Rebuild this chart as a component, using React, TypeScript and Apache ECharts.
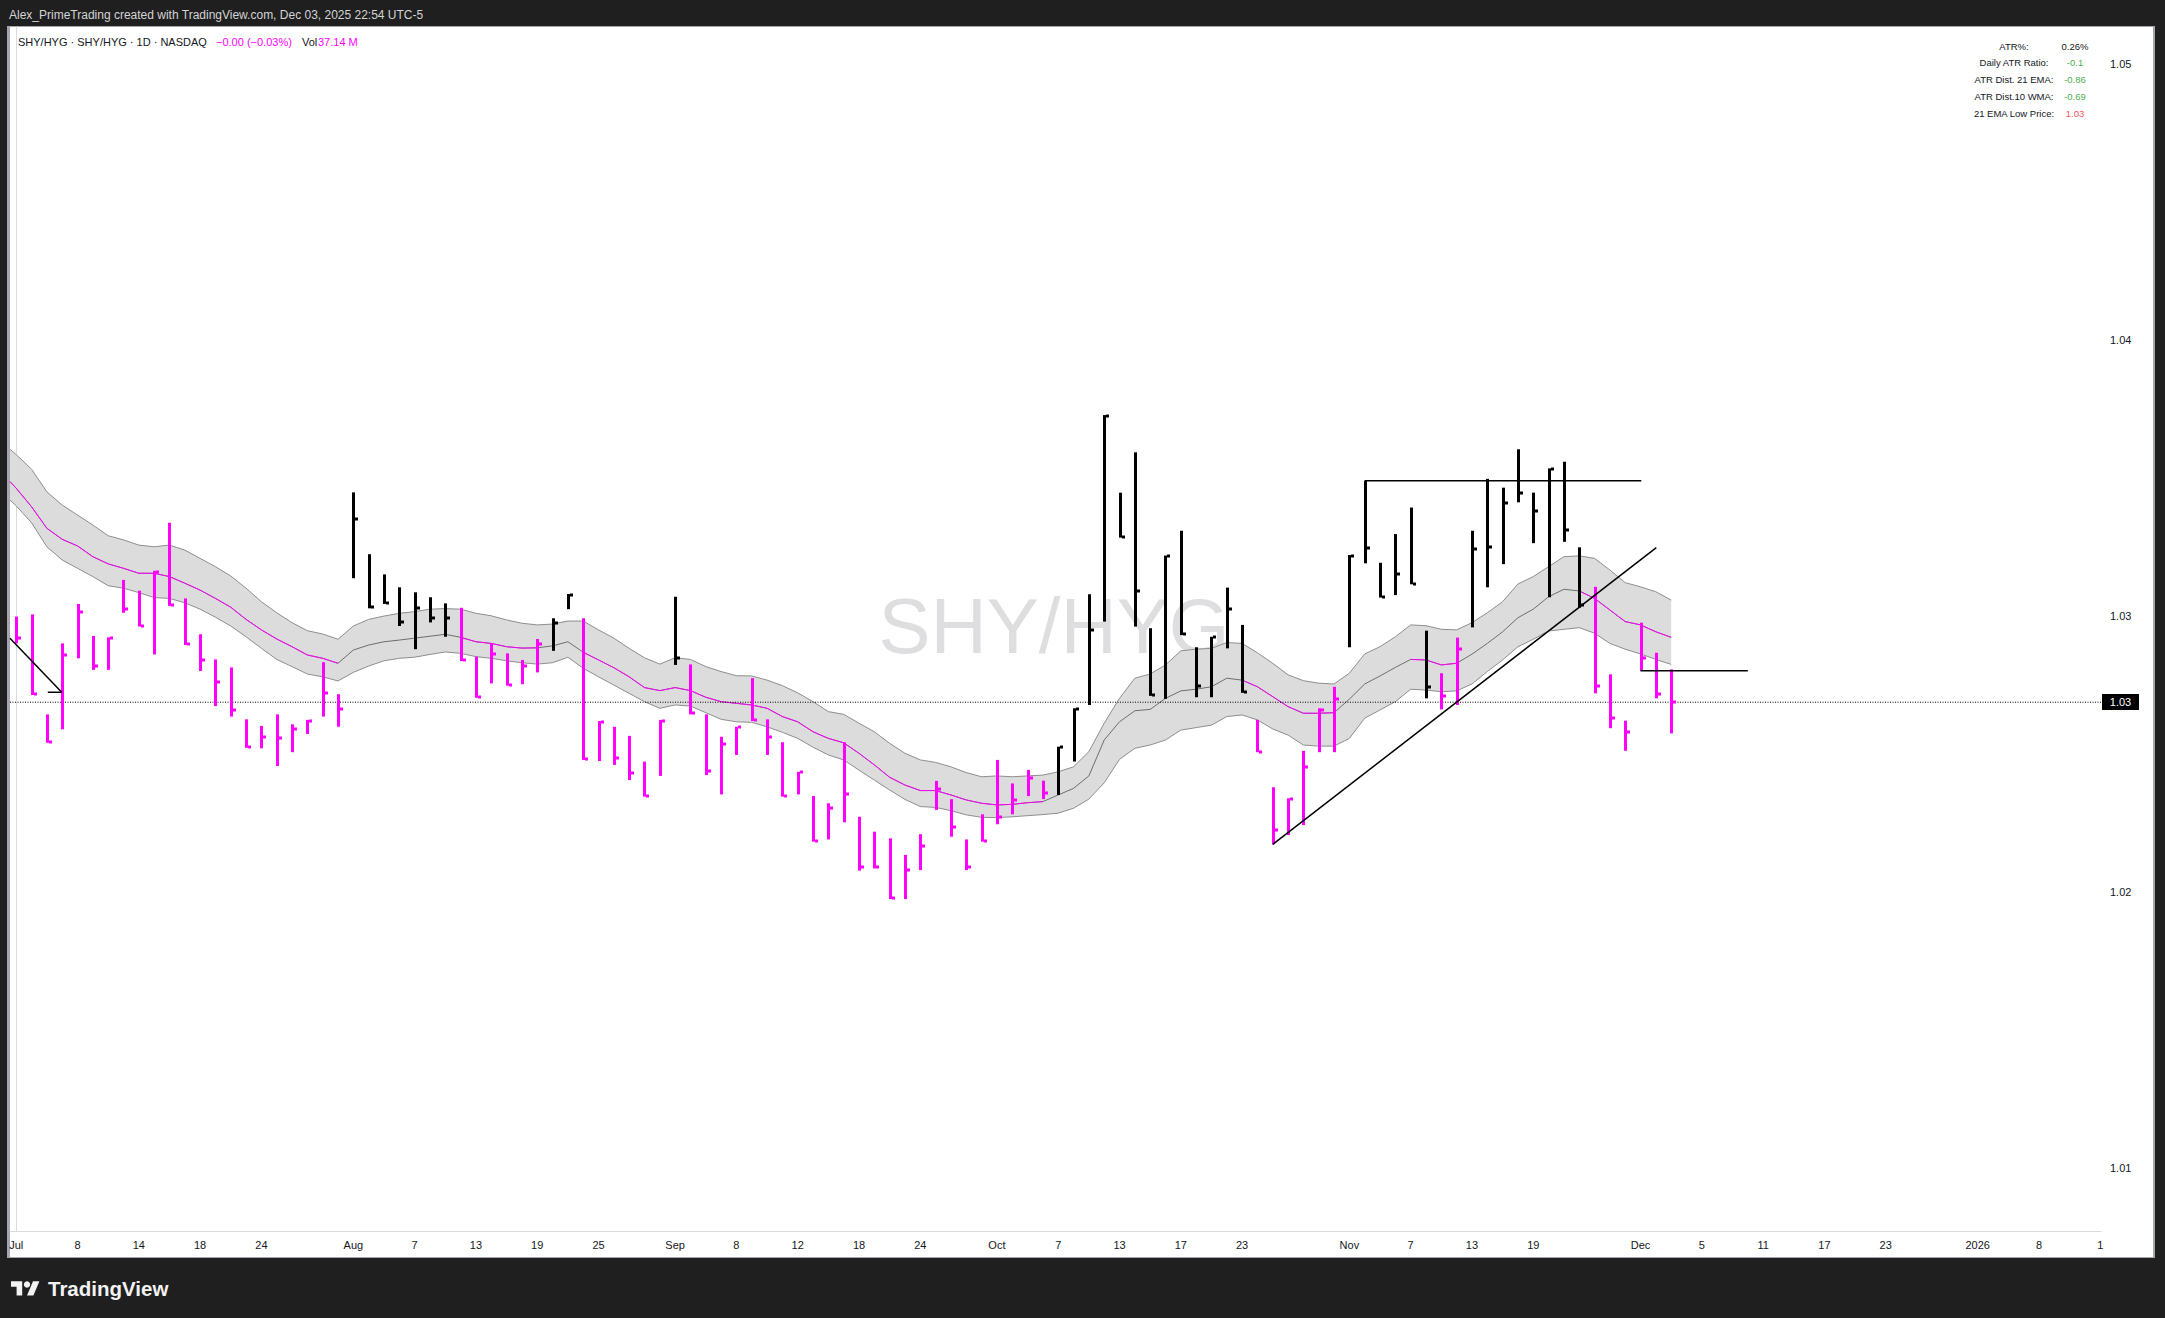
import React, { useEffect, useRef } from "react";
import * as echarts from "echarts";

// ---- OHLC (HLC) bars, one per trading day, index 0 = Jul 1 2025 ----
const highs = [
  1.02997, 1.03005, 1.02643, 1.029, 1.03043, 1.02927, 1.02922, 1.0313, 1.03091, 1.03163,
  1.03337, 1.03063, 1.02933, 1.02842, 1.02813, 1.02625, 1.02601, 1.02643, 1.02607, 1.02623,
  1.02832, 1.02716, 1.03447, 1.03223, 1.0315, 1.03103, 1.03085, 1.03067, 1.03045, 1.03029,
  1.02852, 1.029, 1.02864, 1.0284, 1.02916, 1.02991, 1.03079, 1.02991, 1.02619, 1.02598,
  1.02565, 1.02472, 1.02623, 1.03069, 1.02824, 1.02643, 1.02562, 1.02598, 1.02774, 1.02625,
  1.02542, 1.02435, 1.02347, 1.02321, 1.02542, 1.02272, 1.02218, 1.02194, 1.02134, 1.02209,
  1.02402, 1.02336, 1.0219, 1.02281, 1.02478, 1.02393, 1.02442, 1.02403, 1.02526, 1.02665,
  1.03078, 1.03727, 1.03446, 1.03592, 1.02955, 1.03218, 1.03308, 1.02886, 1.02924, 1.03102,
  1.02967, 1.02623, 1.02379, 1.02339, 1.02511, 1.02665, 1.02743, 1.0322, 1.03489, 1.03192,
  1.03296, 1.03392, 1.02946, 1.02792, 1.02921, 1.03308, 1.03496, 1.03464, 1.03603, 1.03446,
  1.03534, 1.03558, 1.03248, 1.03105, 1.02788, 1.0262, 1.02975, 1.02866, 1.02806,
];
const lows = [
  1.029, 1.02713, 1.0254, 1.02589, 1.02846, 1.02804, 1.02804, 1.03011, 1.02961, 1.0286,
  1.03036, 1.02894, 1.028, 1.02673, 1.02635, 1.02522, 1.0252, 1.02456, 1.02506, 1.02572,
  1.02635, 1.02598, 1.03136, 1.03027, 1.03043, 1.02963, 1.02879, 1.02976, 1.02924, 1.02836,
  1.02703, 1.02755, 1.02747, 1.02752, 1.02795, 1.02873, 1.03024, 1.02478, 1.02474, 1.0246,
  1.02405, 1.02345, 1.0242, 1.02822, 1.02643, 1.02423, 1.02353, 1.02496, 1.02619, 1.02496,
  1.02345, 1.02353, 1.02182, 1.0219, 1.02252, 1.02077, 1.02085, 1.01974, 1.01974, 1.02079,
  1.02297, 1.022, 1.02079, 1.02182, 1.02245, 1.02281, 1.02347, 1.02336, 1.02351, 1.02472,
  1.02677, 1.02979, 1.03283, 1.02961, 1.0271, 1.02699, 1.0293, 1.02705, 1.02705, 1.02882,
  1.02721, 1.02506, 1.02172, 1.02206, 1.02242, 1.02506, 1.02506, 1.02886, 1.0319, 1.03066,
  1.03075, 1.03114, 1.02701, 1.02661, 1.02677, 1.02958, 1.03103, 1.03187, 1.03411, 1.03263,
  1.03067, 1.03268, 1.03029, 1.02719, 1.02593, 1.02511, 1.02801, 1.02701, 1.02574,
];
const closes = [
  1.02918, 1.02717, 1.02544, 1.02858, 1.03013, 1.02818, 1.02918, 1.03024, 1.02963, 1.0316,
  1.03039, 1.02897, 1.0284, 1.02761, 1.02659, 1.02524, 1.02562, 1.02556, 1.02589, 1.02619,
  1.02721, 1.02661, 1.0335, 1.03031, 1.03045, 1.02979, 1.03027, 1.02991, 1.02991, 1.02839,
  1.02706, 1.02861, 1.02749, 1.02819, 1.02898, 1.02973, 1.03076, 1.0248, 1.02616, 1.02486,
  1.0243, 1.02347, 1.0262, 1.02848, 1.02647, 1.02438, 1.02536, 1.02596, 1.02623, 1.02561,
  1.02347, 1.02433, 1.02184, 1.02305, 1.02355, 1.02089, 1.02089, 1.01977, 1.02079, 1.02167,
  1.02373, 1.02234, 1.02089, 1.02184, 1.02272, 1.02333, 1.02411, 1.02359, 1.02524, 1.02662,
  1.02949, 1.03725, 1.03285, 1.0309, 1.02712, 1.03215, 1.02933, 1.02746, 1.02922, 1.03024,
  1.02724, 1.02508, 1.02224, 1.02336, 1.02451, 1.02659, 1.02699, 1.03218, 1.03244, 1.03068,
  1.0315, 1.03116, 1.02741, 1.02711, 1.0288, 1.03242, 1.0325, 1.0341, 1.03446, 1.03381,
  1.03532, 1.03311, 1.03039, 1.02746, 1.02631, 1.0258, 1.02846, 1.02717, 1.02687,
];
// 1 = black bar, 0 = magenta bar
const barDark = [
  0, 0, 0, 0, 0, 0, 0, 0, 0, 0, 0, 0, 0, 0, 0, 0, 0, 0, 0, 0, 0, 0,
  1, 1, 1, 1, 1, 1, 1,
  0, 0, 0, 0, 0, 0,
  1, 1,
  0, 0, 0, 0, 0, 0,
  1,
  0, 0, 0, 0, 0, 0, 0, 0, 0, 0, 0, 0, 0, 0, 0, 0, 0, 0, 0, 0, 0, 0, 0, 0,
  1, 1, 1, 1, 1, 1, 1, 1, 1, 1, 1, 1, 1,
  0, 0, 0, 0, 0, 0,
  1, 1, 1, 1, 1, 1,
  0, 0,
  1, 1, 1, 1, 1, 1, 1, 1,
  0, 0, 0, 0, 0, 0,
];

// ---- 21 EMA channel (first point = left edge of the pane, then bar 0..108) ----
const bandX = [-0.405, ...highs.map((_, i) => i)];
const emaHigh = [
  1.03603,
  1.03584, 1.03531, 1.03449, 1.03401, 1.03365, 1.03329, 1.0329, 1.03275, 1.03256, 1.0325,
  1.03256, 1.03238, 1.03208, 1.03178, 1.03144, 1.031, 1.03051, 1.03011, 1.02975, 1.02946,
  1.02934, 1.02915, 1.02963, 1.02987, 1.02999, 1.03009, 1.03015, 1.03024, 1.03026, 1.03024,
  1.03009, 1.03, 1.02985, 1.02973, 1.02967, 1.0297, 1.02981, 1.02981, 1.02949, 1.02919,
  1.02882, 1.02848, 1.02825, 1.02848, 1.02842, 1.02816, 1.02798, 1.02783, 1.02782, 1.02767,
  1.02747, 1.02721, 1.02689, 1.02653, 1.02643, 1.02611, 1.0258, 1.02538, 1.02502, 1.02478,
  1.02469, 1.02453, 1.02432, 1.02417, 1.0242, 1.02417, 1.0242, 1.02423, 1.02435, 1.02453,
  1.02508, 1.02611, 1.02701, 1.02774, 1.02789, 1.02822, 1.02873, 1.02879, 1.02882, 1.02903,
  1.029, 1.02866, 1.02828, 1.02786, 1.02765, 1.02756, 1.02753, 1.02792, 1.02862, 1.02888,
  1.02924, 1.02967, 1.02964, 1.02951, 1.02949, 1.02975, 1.03011, 1.03051, 1.03115, 1.03142,
  1.03178, 1.03214, 1.03217, 1.03208, 1.03166, 1.0312, 1.03105, 1.03087, 1.03057,
];
const emaClose = [
  1.03486,
  1.03462, 1.03395, 1.03317, 1.03277, 1.03253, 1.03214, 1.03188, 1.03172, 1.03154, 1.03154,
  1.03142, 1.03118, 1.03093, 1.03063, 1.03031, 1.02987, 1.02949, 1.02916, 1.02888, 1.02858,
  1.02846, 1.02828, 1.02876, 1.02894, 1.02906, 1.02912, 1.02919, 1.02926, 1.02933, 1.02922,
  1.02906, 1.029, 1.02888, 1.02883, 1.02884, 1.02891, 1.02906, 1.02868, 1.0284, 1.02812,
  1.02779, 1.0274, 1.02729, 1.0274, 1.02729, 1.02705, 1.02689, 1.02683, 1.02677, 1.02665,
  1.02635, 1.02616, 1.0258, 1.02556, 1.0254, 1.02502, 1.0246, 1.02415, 1.02387, 1.02367,
  1.02367, 1.02351, 1.02333, 1.02321, 1.02315, 1.02317, 1.02323, 1.02327, 1.02351, 1.02375,
  1.0242, 1.0255, 1.02616, 1.02656, 1.02661, 1.02701, 1.02728, 1.02734, 1.02743, 1.02774,
  1.02767, 1.02743, 1.02707, 1.02671, 1.02647, 1.02647, 1.02649, 1.02698, 1.02753, 1.02782,
  1.02813, 1.02842, 1.0284, 1.02822, 1.02828, 1.02861, 1.029, 1.02942, 1.02993, 1.03024,
  1.03069, 1.03096, 1.0309, 1.03063, 1.03021, 1.02979, 1.02967, 1.02942, 1.02922,
];
const emaLow = [
  1.03419,
  1.03398, 1.03337, 1.0325, 1.03202, 1.03172, 1.03142, 1.03109, 1.031, 1.03084, 1.03066,
  1.03063, 1.03047, 1.03024, 1.02995, 1.02963, 1.02924, 1.02882, 1.02842, 1.02816, 1.02789,
  1.02779, 1.02764, 1.02795, 1.02818, 1.02837, 1.02846, 1.0285, 1.0286, 1.02869, 1.02864,
  1.02852, 1.02846, 1.02837, 1.0283, 1.02825, 1.0283, 1.0285, 1.0281, 1.02779, 1.02749,
  1.02719, 1.02689, 1.02665, 1.02677, 1.02673, 1.02649, 1.02625, 1.02616, 1.02614, 1.02598,
  1.02578, 1.02556, 1.02524, 1.02496, 1.02478, 1.02441, 1.02405, 1.02369, 1.02335, 1.02309,
  1.02306, 1.02294, 1.02279, 1.0227, 1.02269, 1.02272, 1.02276, 1.0228, 1.02285, 1.02303,
  1.02336, 1.02395, 1.0248, 1.0252, 1.02532, 1.0255, 1.02586, 1.02595, 1.02604, 1.02635,
  1.02641, 1.02623, 1.0259, 1.02568, 1.02532, 1.02528, 1.02528, 1.02556, 1.02629, 1.02659,
  1.02689, 1.02734, 1.02731, 1.02725, 1.02728, 1.02753, 1.02798, 1.0284, 1.02888, 1.02915,
  1.02945, 1.02951, 1.02957, 1.02937, 1.029, 1.02879, 1.02862, 1.02842, 1.02824,
];
// 1 = EMA line drawn magenta at that point
const magentaOn = [
  1,
  1, 1, 1, 1, 1, 1, 1, 1, 1, 1, 1, 1, 1, 1, 1, 1, 1, 1, 1, 1, 1, 1,
  0, 0, 0, 0, 0, 0, 0,
  1, 1, 1, 1, 1, 1,
  0, 0,
  1, 1, 1, 1, 1, 1, 1, 1, 1, 1, 1, 1, 1, 1, 1, 1, 1, 1, 1, 1, 1, 1, 1, 1, 1, 1, 1, 1, 1, 1, 1,
  0, 0, 0, 0, 0, 0, 0, 0, 0, 0, 0, 0,
  1, 1, 1, 1, 1, 1, 1,
  0, 0, 0, 0,
  1, 1, 1, 1,
  0, 0, 0, 0, 0, 0, 0,
  1, 1, 1, 1, 1, 1, 1,
];

// ---- drawn lines ----
const arrowLine = [[-0.405, 1.02919], [2.97, 1.02723]];
const arrowHook = [[2.06, 1.02723], [2.97, 1.02723]];
const resistanceLine = [[88, 1.03489], [106.05, 1.03489]];
const supportLine = [[82, 1.02172], [107.03, 1.03247]];
const floorLine = [[106, 1.02801], [113, 1.02801]];

// ---- axes ----
const xMin = -0.405;
const xMax = 136.05;
const xTickIdx = [0, 4, 8, 12, 16, 22, 26, 30, 34, 38, 43, 47, 51, 55, 59, 64, 68, 72, 76, 80, 87, 91, 95, 99, 106, 110, 114, 118, 122, 128, 132, 136];
const xTickText = ["Jul", "8", "14", "18", "24", "Aug", "7", "13", "19", "25", "Sep", "8", "12", "18", "24", "Oct", "7", "13", "17", "23", "Nov", "7", "13", "19", "Dec", "5", "11", "17", "23", "2026", "8", "1"];
const yTicks = [1.01, 1.02, 1.03, 1.04, 1.05];

// ---- table ----
const statLabels = ["ATR%:", "Daily ATR Ratio:", "ATR Dist. 21 EMA:", "ATR Dist.10 WMA:", "21 EMA Low Price:"];
const statValues = ["0.26%", "-0.1", "-0.86", "-0.69", "1.03"];
const statColors = ["#131722", "#4caf50", "#4caf50", "#4caf50", "#f7525f"];

const FONT = '"Liberation Sans", Arial, sans-serif';

export default function App() {
  const ref = useRef<HTMLDivElement>(null);
  useEffect(() => {
    if (!ref.current) return;
    const chart = echarts.init(ref.current, null, { renderer: "svg" });
    const labelMap: Record<string, string> = {};
    xTickIdx.forEach((v, i) => (labelMap[String(v)] = xTickText[i]));
    const lastClose = closes[closes.length - 1];

    const barData = highs.map((h, i) => [i, h, lows[i], closes[i], barDark[i]]);

    const lineSeries = (name: string, data: any[], color: string, width: number, z: number, extra: any = {}) => ({
      name,
      type: "line",
      data,
      symbol: "none",
      showSymbol: false,
      silent: true,
      z,
      lineStyle: { color, width },
      connectNulls: false,
      ...extra,
    });

    const graphics: any[] = [
      { type: "rect", z: -5, shape: { x: 7, y: 26, width: 2148, height: 1232 }, style: { fill: "#a3a6af" } },
      { type: "rect", z: -5, shape: { x: 10, y: 27, width: 2143, height: 1230 }, style: { fill: "#ffffff" } },
      {
        type: "text", z: -4, x: 1054, y: 626,
        style: { text: "SHY/HYG", fill: "#dedee0", fontSize: 78, fontFamily: FONT, align: "center", verticalAlign: "middle" },
      },
      {
        type: "text", z: 10, x: 9, y: 15,
        style: { text: "Alex_PrimeTrading created with TradingView.com, Dec 03, 2025 22:54 UTC-5", fill: "#d4d4d4", fontSize: 12, fontFamily: FONT, align: "left", verticalAlign: "middle" },
      },
      {
        type: "text", z: 10, x: 18, y: 42,
        style: { text: "SHY/HYG · SHY/HYG · 1D · NASDAQ", fill: "#131722", fontSize: 11, fontFamily: FONT, align: "left", verticalAlign: "middle" },
      },
      {
        type: "text", z: 10, x: 216, y: 42,
        style: { text: "−0.00 (−0.03%)", fill: "#ff00ff", fontSize: 11, fontFamily: FONT, align: "left", verticalAlign: "middle" },
      },
      {
        type: "text", z: 10, x: 302, y: 42,
        style: { text: "Vol", fill: "#131722", fontSize: 11, fontFamily: FONT, align: "left", verticalAlign: "middle" },
      },
      {
        type: "text", z: 10, x: 318, y: 42,
        style: { text: "37.14 M", fill: "#ff00ff", fontSize: 11, fontFamily: FONT, align: "left", verticalAlign: "middle" },
      },
      // footer logo
      {
        type: "polygon", z: 10,
        shape: { points: [[0, 4], [14, 4], [14, 22], [7, 22], [7, 11], [0, 11]].map(([a, b]) => [11 + a * 0.8, 1278 + b * 0.8]) },
        style: { fill: "#f2f2f2" },
      },
      {
        type: "polygon", z: 10,
        shape: { points: [[20, 22], [27.5, 4], [35.5, 4], [28, 22]].map(([a, b]) => [11 + a * 0.8, 1278 + b * 0.8]) },
        style: { fill: "#f2f2f2" },
      },
      { type: "circle", z: 10, shape: { cx: 11 + 20 * 0.8, cy: 1278 + 8 * 0.8, r: 4 * 0.8 }, style: { fill: "#f2f2f2" } },
      {
        type: "text", z: 10, x: 48, y: 1288,
        style: { text: "TradingView", fill: "#f2f2f2", fontSize: 20.5, fontWeight: "bold", fontFamily: FONT, align: "left", verticalAlign: "middle" },
      },
    ];
    statLabels.forEach((t, i) => {
      const y = 46 + i * 16.8;
      graphics.push({
        type: "text", z: 10, x: 2014, y,
        style: { text: t, fill: "#131722", fontSize: 9.5, fontFamily: FONT, align: "center", verticalAlign: "middle" },
      });
      graphics.push({
        type: "text", z: 10, x: 2075, y,
        style: { text: statValues[i], fill: statColors[i], fontSize: 9.5, fontFamily: FONT, align: "center", verticalAlign: "middle" },
      });
    });

    const option: any = {
      animation: false,
      backgroundColor: "#1f1f1f",
      textStyle: { fontFamily: FONT },
      grid: { left: 10, right: 64, top: 27, bottom: 87, containLabel: false, outerBoundsMode: "none" },
      xAxis: {
        type: "value",
        min: xMin,
        max: xMax,
        splitLine: { show: false },
        axisTick: { show: false },
        axisLine: { show: true, lineStyle: { color: "#d9dbe0", width: 1 } },
        axisLabel: {
          customValues: xTickIdx,
          formatter: (v: number) => labelMap[String(v)] ?? "",
          color: "#131722",
          fontSize: 11,
          margin: 8,
          fontFamily: FONT,
        },
      },
      yAxis: {
        type: "value",
        position: "right",
        min: 1.007718,
        max: 1.051325,
        scale: true,
        splitLine: { show: false },
        axisTick: { show: false },
        axisLine: { show: true, lineStyle: { color: "#d9dbe0", width: 1 } },
        axisLabel: {
          customValues: yTicks,
          formatter: (v: number) => v.toFixed(2),
          color: "#131722",
          fontSize: 11,
          margin: 9,
          fontFamily: FONT,
        },
      },
      graphic: { elements: graphics },
      series: [
        {
          name: "band",
          type: "custom",
          silent: true,
          z: 1,
          data: [[0, 1.03]],
          renderItem: (_p: any, api: any) => {
            const up = bandX.map((x, i) => api.coord([x, emaHigh[i]]));
            const dn = bandX.map((x, i) => api.coord([x, emaLow[i]])).reverse();
            return { type: "polygon", shape: { points: up.concat(dn) }, style: { fill: "#dcdcdc" } };
          },
        },
        lineSeries("emaHigh", bandX.map((x, i) => [x, emaHigh[i]]), "#8e8e8e", 1, 2),
        lineSeries("emaLow", bandX.map((x, i) => [x, emaLow[i]]), "#8e8e8e", 1, 2),
        lineSeries("emaClose", bandX.map((x, i) => [x, emaClose[i]]), "#6e6e6e", 1, 2),
        lineSeries("emaCloseMagenta", bandX.map((x, i) => [x, magentaOn[i] ? emaClose[i] : null]), "#ff00ff", 1, 3),
        // last price dotted line
        {
          name: "lastPriceLine",
          type: "line",
          data: [[xMin, lastClose], [xMax, lastClose]],
          symbol: "none",
          showSymbol: false,
          silent: true,
          z: 4,
          lineStyle: { color: "#000000", width: 1, type: [1, 1.5] },
        },
        {
          name: "bars",
          type: "custom",
          silent: true,
          z: 5,
          data: barData,
          encode: { x: 0, y: [1, 2, 3] },
          renderItem: (_p: any, api: any) => {
            const i = api.value(0);
            const hi = api.coord([i, api.value(1)]);
            const lo = api.coord([i, api.value(2)]);
            const cl = api.coord([i, api.value(3)]);
            const col = api.value(4) ? "#000000" : "#ff00ff";
            const cx = Math.round(hi[0]);
            return {
              type: "group",
              children: [
                { type: "rect", shape: { x: cx - 1, y: hi[1], width: 3, height: Math.max(1, lo[1] - hi[1]) }, style: { fill: col } },
                { type: "rect", shape: { x: cx + 2, y: Math.round(cl[1]) - 1.5, width: 3, height: 3 }, style: { fill: col } },
              ],
            };
          },
        },
        lineSeries("arrow", arrowLine, "#000000", 1.5, 6),
        lineSeries("arrowHook", arrowHook, "#000000", 1.5, 6),
        lineSeries("resistance", resistanceLine, "#000000", 1.5, 6),
        lineSeries("support", supportLine, "#000000", 1.5, 6),
        lineSeries("floor", floorLine, "#000000", 1.5, 6),
        // last price label on the price scale
        {
          name: "lastPriceLabel",
          type: "custom",
          silent: true,
          clip: false,
          z: 8,
          data: [[xMax, lastClose]],
          renderItem: (_p: any, api: any) => {
            const p = api.coord([api.value(0), api.value(1)]);
            const x0 = Math.round(p[0]) + 1;
            const y0 = Math.round(p[1]);
            return {
              type: "group",
              children: [
                { type: "rect", shape: { x: x0, y: y0 - 8, width: 37, height: 16 }, style: { fill: "#000000" } },
                {
                  type: "text",
                  x: x0 + 18.5,
                  y: y0,
                  style: { text: lastClose.toFixed(2), fill: "#ffffff", fontSize: 11, fontFamily: FONT, align: "center", verticalAlign: "middle" },
                },
              ],
            };
          },
        },
      ],
    };
    chart.setOption(option);
    return () => chart.dispose();
  }, []);
  return <div ref={ref} style={{ position: "fixed", left: 0, top: 0, width: 2165, height: 1318 }} />;
}
